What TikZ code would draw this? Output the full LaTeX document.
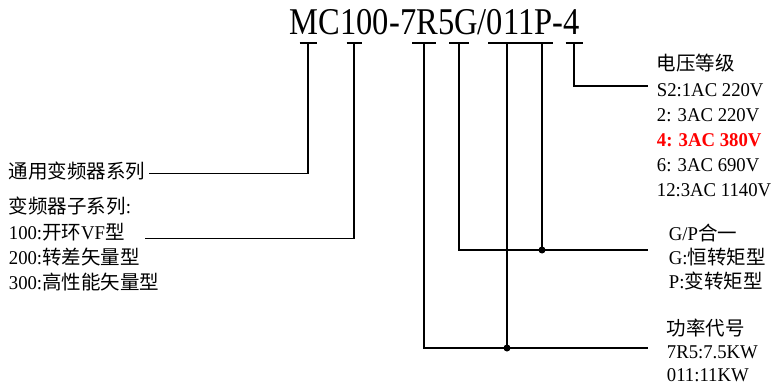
\documentclass[tikz,border=0pt]{standalone}
\usepackage{fontspec}
\setmainfont[FakeStretch=0.96]{Liberation Serif}
\newfontfamily\cjk{Noto Sans CJK SC}
\newfontfamily\codefont[FakeStretch=0.86]{Liberation Serif}
\newcommand\lblfont{\fontsize{19.5}{24}\selectfont}
\usetikzlibrary{matrix}

\begin{document}
\begin{tikzpicture}[
x=1pt,
y=-1pt,
line width=1.8pt,
lbl/.style={
  font=\lblfont,
  inner sep=0pt,
  text height=15pt,
  text depth=5pt,
  anchor=base west
  },
txt/.style={
  matrix of nodes,
  nodes={lbl},
  inner sep=0pt,
  row sep=#1,
  anchor=north west
  },
hl/.style={
  text=red,
  font=\lblfont\bfseries
  },
dot/.style={
  circle,
  fill,
  inner sep=0pt,
  minimum size=7pt
  }
]
\useasboundingbox (0,0) rectangle (775,385);

\node[anchor=base west, inner sep=0pt, font=\codefont\fontsize{37.8}{40}\selectfont] (code) at (289,35) {MC100-7R5G/011P-4};

% left side
\node[lbl] (series) at (8,178.5) {{\cjk 通用变频器系列}};
\matrix[txt=5.3pt] (sub) at (8,198)
{
{\cjk 变频器子系列}: \\
100:{\cjk 开环}VF{\cjk 型} \\
200:{\cjk 转差矢量型} \\
300:{\cjk 高性能矢量型} \\
};

% right side
\matrix[txt=5.1pt] (volt) at (656,55)
{
{\cjk 电压等级} \\
S2:1AC 220V \\
2: 3AC 220V \\
|[hl]| 4: 3AC 380V \\
6: 3AC 690V \\
12:3AC 1140V \\
};
\matrix[txt=4pt] (gp) at (668,225)
{
G/P{\cjk 合一} \\
G:{\cjk 恒转矩型} \\
P:{\cjk 变转矩型} \\
};
\matrix[txt=3pt] (pw) at (666,320)
{
{\cjk 功率代号} \\
7R5:7.5KW \\
011:11KW \\
};

% bars under the code
\coordinate (bMC) at (308,43);
\coordinate (bSer) at (354,43);
\coordinate (bPow) at (424,43);
\coordinate (bG) at (459,43);
\coordinate (bNum) at (507,43);
\coordinate (bP) at (542,43);
\coordinate (bVolt) at (574,43);
\foreach \b/\w in {bMC/8.5,bSer/7.5,bPow/12,bG/10,bVolt/8.5}
  \draw ([xshift=-\w pt]\b) -- ([xshift=\w pt]\b);
\draw ([xshift=-19pt]bNum) -- ([xshift=11pt]bP);

% free ends
\coordinate (eSub) at (145,238.5);
\coordinate (eVolt) at (648,86);
\coordinate (eGP) at (648,250);
\coordinate (ePow) at (648,348);

\draw (bMC) |- ([xshift=3pt]series.east);
\draw (bSer) |- (eSub);
\draw (bPow) |- (ePow);
\draw (bG) |- (eGP);
\draw (bVolt) |- (eVolt);
\draw (bP) -- (bP |- eGP) node[dot] {};
\draw (bNum) -- (bNum |- ePow) node[dot] {};

\end{tikzpicture}
\end{document}
